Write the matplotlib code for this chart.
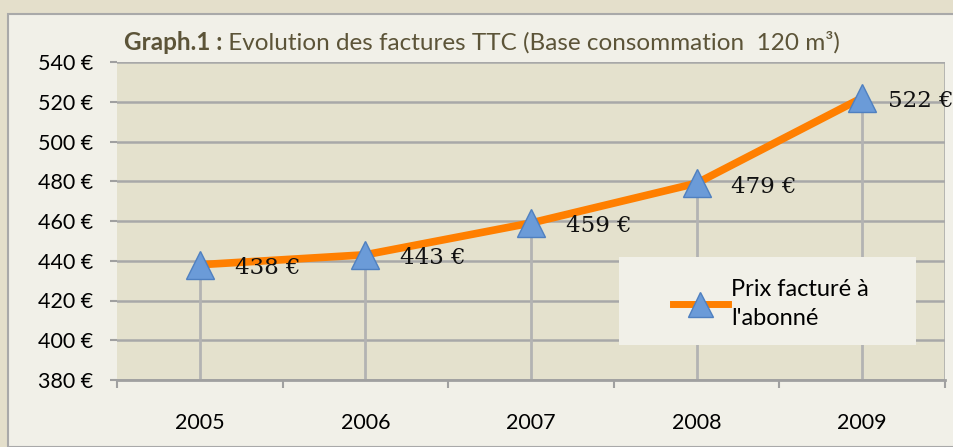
import matplotlib
matplotlib.use("Agg")
import matplotlib.pyplot as plt
from matplotlib.patches import Rectangle
from matplotlib.lines import Line2D

years = ["2005", "2006", "2007", "2008", "2009"]
prices = [438, 443, 459, 479, 522]
value_labels = ["438 €", "443 €", "459 €", "479 €", "522 €"]
yticks = [380, 400, 420, 440, 460, 480, 500, 520, 540]
ytick_labels = [f"{v} €" for v in yticks]
series_name = "Prix facturé à\nl'abonné"

W, H = 954, 447
fig = plt.figure(figsize=(W / 100, H / 100), dpi=100)
fig.patch.set_facecolor("#e4dfcb")

# inner light panel
fig.patches.append(Rectangle((8 / W, 0), 1, 1 - 14 / H, transform=fig.transFigure,
                             facecolor="#f1f0e8", edgecolor="#a9a9a9", linewidth=1.5, zorder=-10))

ax = fig.add_axes([117 / W, 67 / H, 828 / W, 318 / H])
ax.set_zorder(1)
ax.set_facecolor("#e4e1cd")
x = list(range(len(years)))

ax.set_xlim(-0.5, len(years) - 0.5)
ax.set_ylim(380, 540)
ax.set_yticks(yticks)
ax.set_yticklabels(ytick_labels)
ax.set_xticks(x)
ax.set_xticklabels(years)
ax.set_xticks([i - 0.5 for i in range(len(years) + 1)], minor=True)

ax.grid(axis="y", color="#a8a8a8", linewidth=1.8, zorder=1)
for s in ["left", "right", "top"]:
    ax.spines[s].set_visible(False)
ax.spines["bottom"].set_color("#a0a0a0")
ax.spines["bottom"].set_linewidth(2)
ax.axvline(len(years) - 0.5, color="#a8a8a8", linewidth=1.8, zorder=1)

ax.tick_params(axis="y", length=5, width=1.5, color="#a0a0a0", pad=12, labelsize=15.5)
ax.tick_params(axis="x", which="major", length=0, pad=24, labelsize=15.5)
ax.tick_params(axis="x", which="minor", length=6, width=1.5, color="#a0a0a0")

# drop lines
ax.vlines(x, 380, prices, color="#b3b3b3", linewidth=2, zorder=2)

ax.plot(x, prices, color="#ff7f00", linewidth=5.5, solid_capstyle="round",
        marker="^", markersize=20, markerfacecolor="#6b9bd8", markeredgecolor="#4f80c0",
        markeredgewidth=1, zorder=4)

label_dx = [25, 25, 25, 25, 18.5]
for xi, p, lab, dx in zip(x, prices, value_labels, label_dx):
    ax.annotate(lab, (xi, p), xytext=(dx, -2.5), textcoords="offset points",
                ha="left", va="center", fontsize=16.5, family="DejaVu Serif",
                color="#111111", zorder=5, annotation_clip=False)

for t in ax.get_yticklabels() + ax.get_xticklabels():
    t.set_family("Lato")

# title
fig.text(124 / W, 1 - 42 / H, "Graph.1 :", fontsize=17.5, family="Lato",
         weight="bold", color="#5c5438", va="center")
fig.text(222 / W, 1 - 42 / H, " Evolution des factures TTC (Base consommation  120 m³)",
         fontsize=17.5, family=["Lato", "DejaVu Sans"], color="#5c5438", va="center")

# legend
handle = Line2D([], [], color="#ff7f00", linewidth=5, marker="^", markersize=18,
                markerfacecolor="#6b9bd8", markeredgecolor="#4f80c0")
leg = ax.legend([handle], [series_name], loc="center left",
                bbox_to_anchor=(652 / W, 1 - 304 / H), bbox_transform=fig.transFigure,
                frameon=False, prop={"family": "Lato", "size": 17}, handlelength=2.3,
                handletextpad=0.15)
leg.get_texts()[0].set_linespacing(1.5)
leg.set_zorder(11)
ax.add_patch(Rectangle((619 / W, 1 - 345 / H), 297 / W, 88 / H, transform=fig.transFigure,
                       facecolor="#f1f0e8", edgecolor="none", zorder=10))

fig.savefig("out.png", dpi=100, facecolor=fig.get_facecolor())
